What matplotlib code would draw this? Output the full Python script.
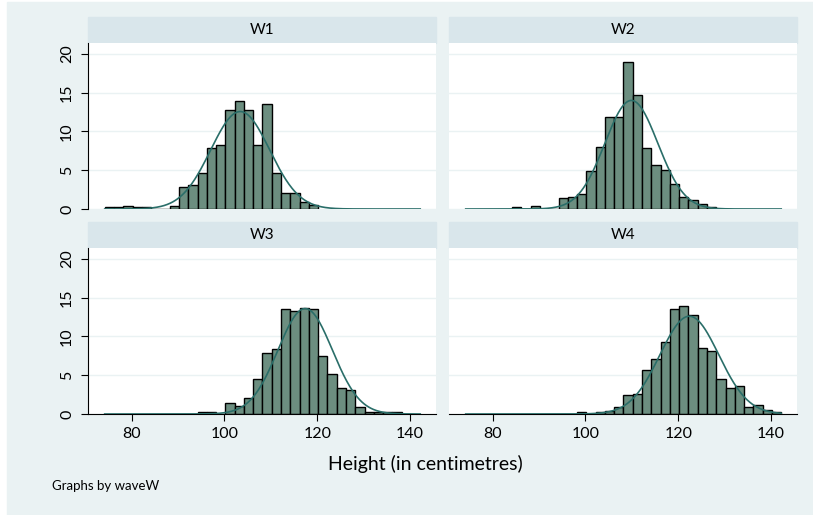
import numpy as np
import matplotlib.pyplot as plt
from matplotlib.patches import Rectangle

plt.rcParams['font.family'] = ['Lato', 'DejaVu Sans']

# --- data (percent of children per 2 cm bin) ---
waves = ['W1', 'W2', 'W3', 'W4']
bin_width = 2
first_edge = [74.2, 84.2, 94.2, 98.2]

w1_pct = [0.2, 0.2, 0.4, 0.2, 0.2, 0, 0, 0.45, 2.84, 3.05, 4.7, 7.9, 8.3,
          12.8, 13.9, 12.8, 8.3, 13.5, 4.7, 2.0, 2.0, 0.86, 0.5]
w2_pct = [0.2, 0, 0.35, 0, 0, 1.4, 1.55, 1.9, 4.9, 8.0, 11.8, 11.8, 19.0,
          14.75, 7.8, 5.7, 5.0, 3.2, 1.6, 1.16, 0.65, 0.3]
w3_pct = [0.2, 0.2, 0, 1.4, 1.0, 2.06, 4.47, 7.9, 8.4, 13.5, 13.3, 13.7,
          13.5, 7.5, 5.2, 3.3, 3.05, 0.86, 0.3, 0.2, 0.2, 0.2]
w4_pct = [0.2, 0, 0.2, 0.4, 0.86, 2.4, 2.6, 5.7, 7.05, 9.3, 13.5, 13.9,
          12.7, 8.5, 8.1, 4.5, 3.4, 3.6, 0.95, 1.2, 0.47, 0.26]
pcts = [w1_pct, w2_pct, w3_pct, w4_pct]

# normal curve overlay (mean / sd per wave)
means = [103.4, 109.9, 117.4, 122.4]
sds = [6.35, 5.7, 5.87, 6.33]
curve_range = (74.2, 142.2)

xticks = [80, 100, 120, 140]
yticks = [0, 5, 10, 15, 20]

# colours (Stata s2color look)
bg = '#EAF2F3'
strip_col = '#D9E6EB'
bar_col = '#6C8E80'
line_col = '#2A6E69'

W, H = 813, 515
fig = plt.figure(figsize=(W / 100, H / 100), dpi=100, facecolor='white')
fig.patches.append(Rectangle((7 / W, 0), 1 - 7 / W, 1 - 2 / H,
                             transform=fig.transFigure, color=bg, zorder=-2))

lefts = [88, 449]
panel_w = 348
tops = [43, 248]
panel_h = 166

xs = np.linspace(curve_range[0], curve_range[1], 400)

for i, wave in enumerate(waves):
    row, col = divmod(i, 2)
    l, t = lefts[col], tops[row]
    ax = fig.add_axes([l / W, 1 - (t + panel_h) / H, panel_w / W, panel_h / H])
    ax.set_facecolor('white')

    # strip on top
    fig.patches.append(Rectangle((l / W, 1 - t / H), panel_w / W, 26 / H,
                                 transform=fig.transFigure, color=strip_col, zorder=-1))
    fig.text((l + panel_w / 2) / W, 1 - (t - 13) / H, wave, ha='center', va='center',
             fontsize=11)

    edges = first_edge[i] + bin_width * np.arange(len(pcts[i]))
    ax.bar(edges, pcts[i], width=bin_width, align='edge', color=bar_col,
           edgecolor='black', linewidth=1.0, zorder=2)

    dens = 100 * bin_width * np.exp(-0.5 * ((xs - means[i]) / sds[i]) ** 2) / (sds[i] * np.sqrt(2 * np.pi))
    ax.plot(xs, dens, color=line_col, lw=1.2, zorder=3)

    ax.set_xlim(70.6, 145.6)
    ax.set_ylim(0, 21.4)
    ax.set_yticks(yticks)
    ax.set_xticks(xticks)
    ax.yaxis.grid(True, color=bg, lw=1.0)
    ax.set_axisbelow(True)

    for s in ['top', 'right']:
        ax.spines[s].set_visible(False)
    ax.spines['left'].set_visible(col == 0)
    ax.spines['bottom'].set_visible(row == 1)

    if col == 0:
        ax.tick_params(axis='y', length=5, width=0.8, pad=5, labelsize=11.5)
        plt.setp(ax.get_yticklabels(), rotation=90, va='center')
    else:
        ax.tick_params(axis='y', length=0, labelleft=False)

    if row == 1:
        ax.tick_params(axis='x', length=5, width=0.8, pad=4, labelsize=11.5)
    else:
        ax.tick_params(axis='x', length=0, labelbottom=False)

fig.text(425 / W, 1 - 464 / H, 'Height (in centimetres)', ha='center', va='center',
         fontsize=14)
fig.text(52 / W, 1 - 486 / H, 'Graphs by waveW', ha='left', va='center', fontsize=9.5)

fig.savefig('out.png', dpi=100, facecolor='white')
